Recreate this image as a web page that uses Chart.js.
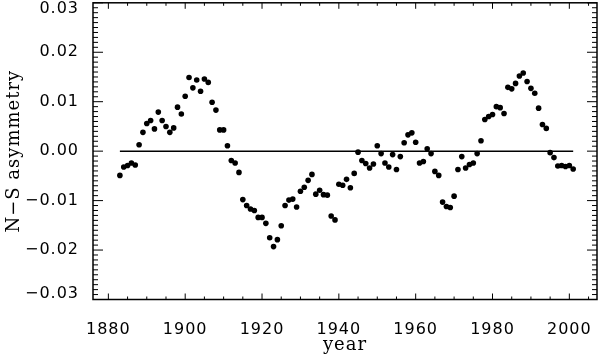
<!DOCTYPE html>
<html>
<head>
<meta charset="utf-8">
<script src="https://cdn.jsdelivr.net/npm/chart.js@4.4.1/dist/chart.umd.min.js"></script>
<style>
	html, body { margin: 0; padding: 0; background: #fff; }
	canvas { display: block; }
</style>
</head>
<body>
<canvas id="asymmetry" width="600" height="357"></canvas>
<script>
// yearly N-S asymmetry, first value is for 1883
var firstYear = 1883;
var asymmetry = [
	-0.0049, -0.0032, -0.0029, -0.0024, -0.0028, 0.0013, 0.0038, 0.0056, 0.0062, 0.0045,
	0.0079, 0.0062, 0.0050, 0.0038, 0.0047, 0.0089, 0.0075, 0.0111, 0.0149, 0.0128,
	0.0144, 0.0121, 0.0146, 0.0139, 0.0099, 0.0083, 0.0043, 0.0043, 0.0011, -0.0019,
	-0.0024, -0.0043, -0.0098, -0.0110, -0.0117, -0.0120, -0.0134, -0.0134, -0.0146, -0.0175,
	-0.0193, -0.0179, -0.0151, -0.0110, -0.0099, -0.0097, -0.0113, -0.0081, -0.0073, -0.0059,
	-0.0047, -0.0087, -0.0079, -0.0088, -0.0089, -0.0131, -0.0139, -0.0067, -0.0069, -0.0057,
	-0.0074, -0.0045, -0.0002, -0.0019, -0.0025, -0.0034, -0.0026, 0.0011, -0.0005, -0.0024,
	-0.0032, -0.0007, -0.0037, -0.0011, 0.0017, 0.0033, 0.0037, 0.0018, -0.0024, -0.0021,
	0.0005, -0.0005, -0.0041, -0.0049, -0.0103, -0.0112, -0.0114, -0.0091, -0.0037, -0.0011,
	-0.0034, -0.0027, -0.0024, -0.0005, 0.0021, 0.0064, 0.0070, 0.0074, 0.0090, 0.0088,
	0.0076, 0.0129, 0.0126, 0.0137, 0.0152, 0.0158, 0.0141, 0.0127, 0.0117, 0.0087,
	0.0054, 0.0046, -0.0003, -0.0013, -0.0030, -0.0029, -0.0031, -0.0029, -0.0036
];
// zero reference line spans the data years
var zeroLineYears = [ 1883, 2001 ];

var xTicks = [ 1880, 1900, 1920, 1940, 1960, 1980, 2000 ];
var yTicks = [ -0.03, -0.02, -0.01, 0, 0.01, 0.02, 0.03 ];
var xRange = [ 1876, 2007.2 ];
var yRange = [ -0.03, 0.03 ];

( function () {
	'use strict';

	var points = asymmetry.map( function ( v, i ) {
		return { x: firstYear + i, y: v };
	} );
	var zeroLine = zeroLineYears.map( function ( yr ) {
		return { x: yr, y: 0 };
	} );

	function fmtY( value ) {
		var s = value === 0 ? '0.00' : value.toFixed( 2 ).replace( '-', '\u2212' );
		// edge labels sit inside the frame
		if ( value === yRange[ 1 ] ) {
			return [ '', s ];
		}
		if ( value === yRange[ 0 ] ) {
			return [ s, '' ];
		}
		return s;
	}

	// box with inward ticks on all four sides
	var framePlugin = {
		id: 'frame',
		beforeDraw: function ( chart ) {
			chart.ctx.letterSpacing = '1px';
		},
		afterDraw: function ( chart ) {
			var ctx = chart.ctx;
			var a = chart.chartArea;
			var xs = chart.scales.x;
			var ys = chart.scales.y;
			var i, p, len;

			ctx.save();
			ctx.strokeStyle = '#000';
			ctx.lineWidth = 1.5;
			ctx.strokeRect( a.left, a.top, a.right - a.left, a.bottom - a.top );

			ctx.lineWidth = 1;
			ctx.beginPath();
			for ( i = -30; i <= 30; i++ ) {
				p = ys.getPixelForValue( i / 1000 );
				len = i % 10 === 0 ? 10 : 5;
				ctx.moveTo( a.left, p );
				ctx.lineTo( a.left + len, p );
				ctx.moveTo( a.right, p );
				ctx.lineTo( a.right - len, p );
			}
			for ( i = 1880; i <= 2005; i += 5 ) {
				p = xs.getPixelForValue( i );
				len = i % 20 === 0 ? 6 : 3;
				ctx.moveTo( p, a.bottom );
				ctx.lineTo( p, a.bottom - len );
				ctx.moveTo( p, a.top );
				ctx.lineTo( p, a.top + len );
			}
			ctx.stroke();
			ctx.restore();
		},
	};

	new Chart( document.getElementById( 'asymmetry' ), {
		type: 'scatter',
		data: {
			datasets: [
				{
					data: points,
					backgroundColor: '#000',
					borderWidth: 0,
					pointRadius: 2.8,
					pointHoverRadius: 2.8,
				},
				{
					data: zeroLine,
					showLine: true,
					borderColor: '#000',
					borderWidth: 1.5,
					pointRadius: 0,
				},
			],
		},
		options: {
			responsive: false,
			animation: false,
			layout: {
				padding: { top: 1, right: 3, bottom: 0, left: 0 },
			},
			plugins: {
				legend: { display: false },
				tooltip: { enabled: false },
			},
			scales: {
				x: {
					type: 'linear',
					min: xRange[ 0 ],
					max: xRange[ 1 ],
					border: { display: false },
					grid: { display: false },
					afterBuildTicks: function ( scale ) {
						scale.ticks = xTicks.map( function ( v ) {
							return { value: v };
						} );
					},
					afterFit: function ( scale ) {
						scale.height = 57.5;
						scale.paddingLeft = 0;
						scale.paddingRight = 0;
					},
					ticks: {
						color: '#000',
						padding: 13,
						maxRotation: 0,
						autoSkip: false,
						font: { family: 'DejaVu Sans', size: 16 },
						callback: function ( value ) {
							return String( value );
						},
					},
					title: {
						display: true,
						text: 'year',
						color: '#000',
						padding: { top: 0, bottom: 0.5 },
						font: { family: 'DejaVu Serif', size: 18 },
					},
				},
				y: {
					type: 'linear',
					min: yRange[ 0 ],
					max: yRange[ 1 ],
					border: { display: false },
					grid: { display: false },
					afterBuildTicks: function ( scale ) {
						scale.ticks = yTicks.map( function ( v ) {
							return { value: v };
						} );
					},
					afterFit: function ( scale ) {
						scale.width = 93;
						scale.paddingTop = 0;
						scale.paddingBottom = 0;
					},
					ticks: {
						color: '#000',
						padding: 6,
						autoSkip: false,
						font: { family: 'DejaVu Sans', size: 16, lineHeight: 0.75 },
						callback: fmtY,
					},
					title: {
						display: true,
						text: 'N\u2212S asymmetry',
						color: '#000',
						padding: { top: 4, bottom: 0 },
						font: { family: 'DejaVu Serif', size: 18 },
					},
				},
			},
		},
		plugins: [ framePlugin ],
	} );
} )();
</script>
</body>
</html>
